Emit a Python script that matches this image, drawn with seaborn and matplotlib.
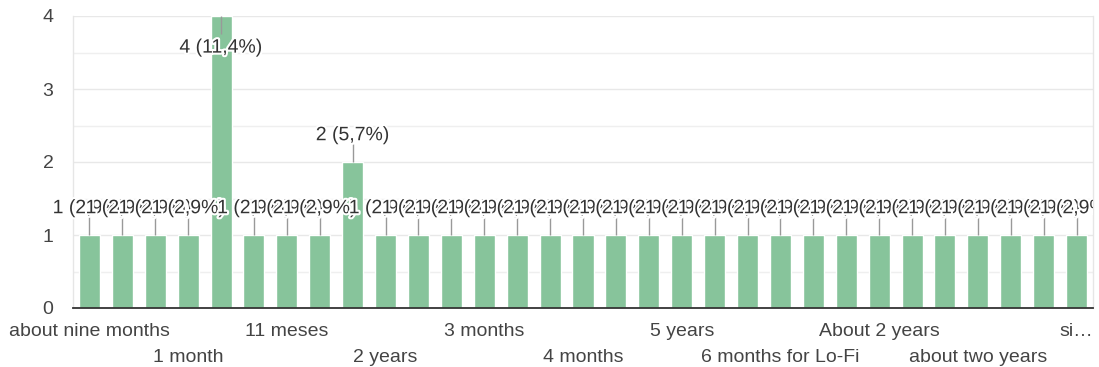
import matplotlib
matplotlib.use("Agg")
import matplotlib.pyplot as plt
import matplotlib.patheffects as pe
from matplotlib.ticker import MultipleLocator
import seaborn as sns
import pandas as pd

categories = [
    "about nine months", "1 week", "1 mês", "1 month", "1 year", "10 months",
    "11 meses", "18 months", "2 months", "2 years", "2 anos", "3 anos",
    "3 months", "3 years", "4 anos", "4 months", "4 years", "5 months",
    "5 years", "6 meses", "6 months", "6 months for Lo-Fi", "7 months",
    "8 months", "About 2 years", "Almost 1 year", "a year", "about two years",
    "one year", "seis meses", "six months",
]
counts = [1, 1, 1, 1, 4, 1, 1, 1, 2, 1, 1, 1, 1, 1, 1, 1, 1, 1, 1, 1, 1,
          1, 1, 1, 1, 1, 1, 1, 1, 1, 1]
shown_tick_idx = [0, 3, 6, 9, 12, 15, 18, 21, 24, 27, 30]
shown_tick_labels = ["about nine months", "1 month", "11 meses", "2 years",
                     "3 months", "4 months", "5 years", "6 months for Lo-Fi",
                     "About 2 years", "about two years", "si…"]

sns.set_theme(style="white")
plt.rcParams["font.family"] = ["Liberation Sans", "DejaVu Sans"]

df = pd.DataFrame({"cat": categories, "n": counts})
total = sum(counts)

fig = plt.figure(figsize=(10.99, 3.67), dpi=100)
ax = fig.add_axes([73 / 1099, 1 - 308 / 367, (1093 - 73) / 1099, (308 - 16) / 367])

sns.barplot(data=df, x="cat", y="n", order=categories, color="#87c49b",
            saturation=1, width=0.64, ax=ax, zorder=2)

ax.set_xlim(-0.5, len(categories) - 0.5)
ax.set_ylim(0, 4)
ax.yaxis.set_major_locator(MultipleLocator(1))
ax.yaxis.set_minor_locator(MultipleLocator(0.5))
ax.grid(axis="y", which="major", color="#e8e8e8", lw=1, zorder=0)
ax.grid(axis="y", which="minor", color="#efefef", lw=1, zorder=0)
ax.set_axisbelow(True)

for s in ["left", "right", "top"]:
    ax.spines[s].set_color("#e6e6e6")
    ax.spines[s].set_linewidth(1)
ax.spines["top"].set_visible(False)
ax.spines["bottom"].set_color("#333333")
ax.spines["bottom"].set_linewidth(1.3)
ax.spines["bottom"].set_zorder(5)

ax.set_xlabel("")
ax.set_ylabel("")
ax.tick_params(axis="y", length=0, pad=14, labelsize=14, labelcolor="#444444")
ax.tick_params(axis="x", length=0, pad=11, labelsize=14, labelcolor="#444444")

ax.set_xticks(shown_tick_idx)
lbls = []
for k, t in enumerate(shown_tick_labels):
    lbls.append(t if k % 2 == 0 else "\n" + t)
ax.set_xticklabels(lbls)
for t in ax.get_xticklabels():
    t.set_linespacing(1.65)

halo = [pe.withStroke(linewidth=3, foreground="white")]
ymax = max(counts)
for i, v in enumerate(counts):
    pct = f"{v / total * 100:.1f}".replace(".", ",")
    txt = f"{v} ({pct}%)"
    if v == ymax:
        ax.vlines(i, v - 0.25, v, color="#999999", lw=1, zorder=3)
        ty = v - 0.44
    else:
        ax.vlines(i, v, v + 0.24, color="#999999", lw=1, zorder=3)
        ty = v + 0.36
    ax.text(i, ty, txt, ha="center", va="center", fontsize=14,
            color="#333333", path_effects=halo, zorder=4 + i * 0.01,
            clip_on=(i > 0))

fig.savefig("out.png", dpi=100)
